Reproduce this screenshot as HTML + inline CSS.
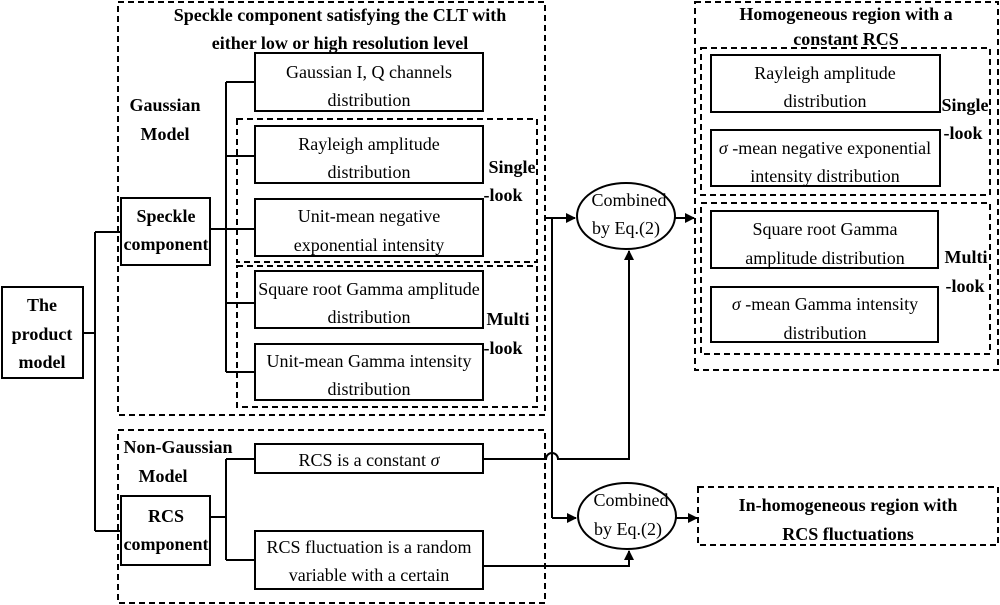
<!DOCTYPE html>
<html><head><meta charset="utf-8"><style>
html,body{margin:0;padding:0;background:#fff;}
svg{display:block;}
text{font-family:"Liberation Serif",serif;font-size:18px;fill:#000;}
.b{font-weight:bold;}
</style></head><body>
<svg width="1000" height="605" viewBox="0 0 1000 605" xmlns="http://www.w3.org/2000/svg">
<defs><marker id="a" markerWidth="10" markerHeight="10" refX="9" refY="5" orient="auto" markerUnits="userSpaceOnUse"><path d="M0,0 L10,5 L0,10 z" fill="#000"/></marker></defs>
<g fill="none" stroke="#000" stroke-width="2" stroke-dasharray="6,4">
<rect x="118" y="2" width="427" height="413"/>
<rect x="237" y="119" width="300" height="143"/>
<rect x="237" y="266" width="300" height="141"/>
<rect x="118" y="430" width="427" height="173"/>
<rect x="695" y="2" width="303" height="368"/>
<rect x="701" y="48" width="289" height="147"/>
<rect x="701" y="203" width="289" height="151"/>
<rect x="698" y="487" width="300" height="58"/>
</g>
<g fill="#fff" stroke="#000" stroke-width="2">
<rect x="255" y="53" width="228" height="58"/>
<rect x="255" y="126" width="228" height="57"/>
<rect x="255" y="199" width="228" height="57"/>
<rect x="255" y="271" width="228" height="57"/>
<rect x="255" y="344" width="228" height="56"/>
<rect x="121" y="198" width="89" height="67"/>
<rect x="2" y="287" width="81" height="91"/>
<rect x="121" y="496" width="89" height="69"/>
<rect x="255" y="444" width="228" height="29"/>
<rect x="255" y="531" width="228" height="58"/>
<rect x="711" y="55" width="229" height="57"/>
<rect x="711" y="130" width="229" height="56"/>
<rect x="711" y="211" width="227" height="57"/>
<rect x="711" y="287" width="227" height="55"/>
<ellipse cx="626" cy="216" rx="49" ry="33"/>
<ellipse cx="627" cy="516" rx="49" ry="33"/>
</g>
<g fill="none" stroke="#000" stroke-width="2">
<path d="M83,333 H95 M95,232 V531 M95,232 H121 M95,531 H121"/>
<path d="M210,229 H226 M226,82 V372 M226,82 H255 M226,156 H255 M226,229 H255 M226,303 H255 M226,372 H255"/>
<path d="M210,517 H226 M226,459 V560 M226,459 H255 M226,560 H255"/>
<path d="M545,218 H552 V518" />
<path d="M552,218 H575" marker-end="url(#a)"/>
<path d="M552,518 H576" marker-end="url(#a)"/>
<path d="M675,218 H694" marker-end="url(#a)"/>
<path d="M676,518 H697" marker-end="url(#a)"/>
<path d="M483,459 H546 A6,6 0 0 1 558,459 H629 V251" marker-end="url(#a)"/>
<path d="M483,566 H629 V551" marker-end="url(#a)"/>
</g>
<g text-anchor="middle">
<text class="b" x="340" y="21">Speckle component satisfying the CLT with</text>
<text class="b" x="340" y="49">either low or high resolution level</text>
<text class="b" x="165" y="111">Gaussian</text>
<text class="b" x="165" y="140">Model</text>
<text x="369" y="78">Gaussian I, Q channels</text>
<text x="369" y="106">distribution</text>
<text x="369" y="150">Rayleigh amplitude</text>
<text x="369" y="178">distribution</text>
<text x="369" y="222">Unit-mean negative</text>
<text x="369" y="251">exponential intensity</text>
<text x="369" y="295">Square root Gamma amplitude</text>
<text x="369" y="323">distribution</text>
<text x="369" y="367">Unit-mean Gamma intensity</text>
<text x="369" y="395">distribution</text>
<text class="b" x="512" y="173">Single</text>
<text class="b" x="503" y="201">-look</text>
<text class="b" x="508" y="325">Multi</text>
<text class="b" x="503" y="354">-look</text>
<text class="b" x="166" y="222">Speckle</text>
<text class="b" x="166" y="250">component</text>
<text class="b" x="42" y="311">The</text>
<text class="b" x="42" y="340">product</text>
<text class="b" x="42" y="368">model</text>
<text class="b" x="178" y="453">Non-Gaussian</text>
<text class="b" x="163" y="482">Model</text>
<text class="b" x="166" y="522">RCS</text>
<text class="b" x="166" y="550">component</text>
<text x="369" y="466">RCS is a constant  <tspan font-style="italic">σ</tspan></text>
<text x="369" y="553">RCS fluctuation is a random</text>
<text x="369" y="581">variable with a certain</text>
<text x="629" y="206">Combined</text>
<text x="626" y="234">by Eq.(2)</text>
<text x="631" y="506">Combined</text>
<text x="628" y="535">by Eq.(2)</text>
<text class="b" x="846" y="20">Homogeneous region with a</text>
<text class="b" x="846" y="45">constant RCS</text>
<text x="825" y="79">Rayleigh amplitude</text>
<text x="825" y="107">distribution</text>
<text x="825" y="154"><tspan font-style="italic">σ</tspan> -mean negative exponential</text>
<text x="825" y="182">intensity distribution</text>
<text x="825" y="235">Square root Gamma</text>
<text x="825" y="264">amplitude distribution</text>
<text x="825" y="310"><tspan font-style="italic">σ</tspan> -mean Gamma intensity</text>
<text x="825" y="339">distribution</text>
<text class="b" x="965" y="111">Single</text>
<text class="b" x="963" y="139">-look</text>
<text class="b" x="966" y="263">Multi</text>
<text class="b" x="965" y="292">-look</text>
<text class="b" x="848" y="511">In-homogeneous region with</text>
<text class="b" x="848" y="540">RCS fluctuations</text>
</g>
</svg>
</body></html>
